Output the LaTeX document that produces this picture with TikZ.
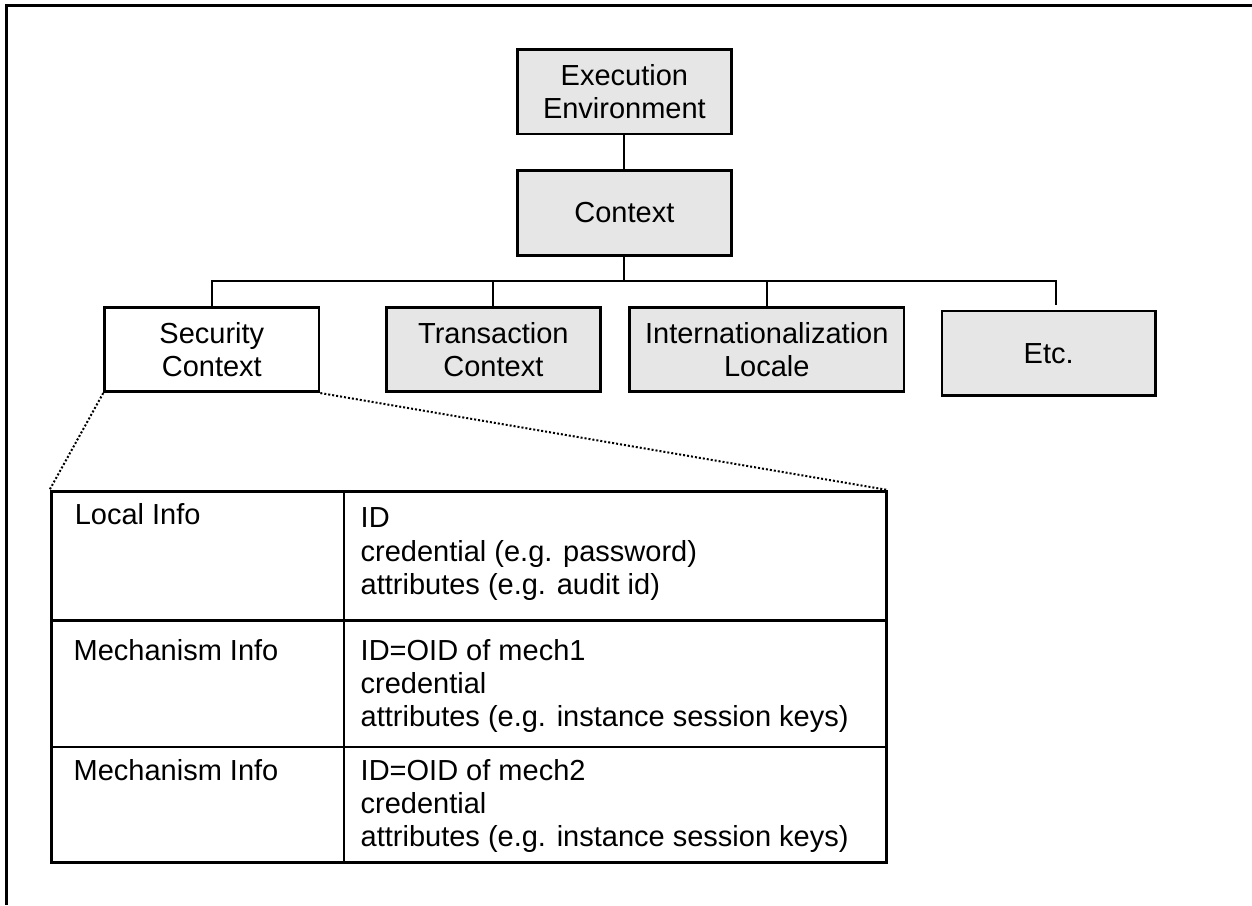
\documentclass[tikz,border=0pt]{standalone}
\usepackage{fontspec}
\setmainfont{Liberation Sans}
\definecolor{boxgray}{RGB}{230,230,230}
\begin{document}
\begin{tikzpicture}[x=1pt,y=-1pt,
  box/.style={draw=black, line width=2.6pt, minimum width=214pt, minimum height=84.5pt,
    inner sep=0pt, align=center, font=\fontsize{29}{32.5}\selectfont},
  greybox/.style={box, fill=boxgray},
  conn/.style={line width=2pt},
  zoomline/.style={line width=2pt, dash pattern=on 2pt off 2pt},
  cell/.style={draw=black, line width=2.5pt, anchor=north west, inner sep=0pt, fill=white},
  ct/.style={anchor=base west, inner sep=0pt, font=\fontsize{29}{33}\selectfont}
]
\useasboundingbox (0,0) rectangle (1252,905);
\draw[line width=2.6pt] (1252,5.3) -| (6.5,905);

% tree
\node[greybox] (exec) at (624.4,91.7) {Execution\\Environment};
\node[greybox] (ctx) at (624.4,213) {Context};
\node[box, fill=white, minimum width=214.5pt] (sec) at (211.8,349.5) {Security\\Context};
\node[greybox] (trans) at (493.4,349.5) {Transaction\\Context};
\node[greybox, minimum width=274.4pt] (intl) at (766.8,349.5) {Internationalization\\Locale};
\node[greybox, minimum width=213.7pt] (etc) at (1048.7,353.3) {Etc.};

\coordinate (busL) at (210.8,281);
\coordinate (busR) at (1055.6,281);
\coordinate (etcTop) at (1055.6,305);

\draw[conn] (exec) -- (ctx);
\draw[conn] (ctx.south) -- (ctx.south |- busL);
\draw[conn] (sec.north) -- (sec.north |- busL) -- (busR) -- (etcTop);
\draw[conn] (trans.north) -- (trans.north |- busL);
\draw[conn] (intl.north) -- (intl.north |- busL);

% table
\node[cell, minimum width=293.3pt, minimum height=129.3pt] (l1) at (49.5,490) {};
\node[cell, minimum width=541.7pt, minimum height=129.3pt] (r1) at (342.8,490) {};
\node[cell, minimum width=293.3pt, minimum height=126.4pt] (l2) at (49.5,619.3) {};
\node[cell, minimum width=541.7pt, minimum height=126.4pt] (r2) at (342.8,619.3) {};
\node[cell, minimum width=293.3pt, minimum height=115.3pt] (l3) at (49.5,745.7) {};
\node[cell, minimum width=541.7pt, minimum height=115.3pt] (r3) at (342.8,745.7) {};
\node[draw=black, line width=3.4pt, anchor=north west, inner sep=0pt,
  minimum width=835pt, minimum height=371pt] (tab) at (49.5,490) {};

\draw[zoomline] (sec.south west) -- (tab.north west);
\draw[zoomline] (sec.south east) -- (tab.north east);

\node[ct] (t1) at (74.6,524) {Local Info};
\node[ct] (t2) at (360.5,527.5) {ID};
\node[ct] (t3) at (360.5,561) {credential (e.g. password)};
\node[ct] (t4) at (360.5,594) {attributes (e.g. audit id)};

\node[ct] (t5) at (73.5,660) {Mechanism Info};
\node[ct] (t6) at (360.5,660) {ID=OID of mech1};
\node[ct] (t7) at (360.5,693) {credential};
\node[ct] (t8) at (360.5,726) {attributes (e.g. instance session keys)};

\node[ct] (t9) at (73.5,780) {Mechanism Info};
\node[ct] (t10) at (360.5,780) {ID=OID of mech2};
\node[ct] (t11) at (360.5,813) {credential};
\node[ct] (t12) at (360.5,846) {attributes (e.g. instance session keys)};
\end{tikzpicture}
\end{document}
